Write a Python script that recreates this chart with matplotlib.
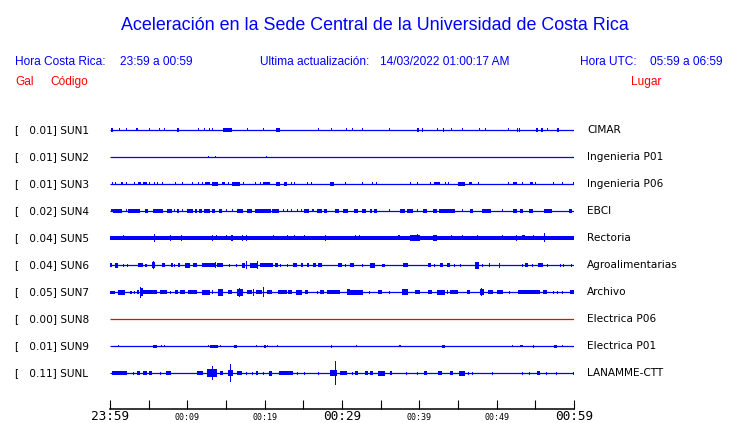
import matplotlib
matplotlib.use("Agg")
import matplotlib.pyplot as plt
from matplotlib.transforms import blended_transform_factory


codes = ["SUN1", "SUN2", "SUN3", "SUN4", "SUN5", "SUN6", "SUN7", "SUN8", "SUN9", "SUNL"]
scales = ["0.01", "0.01", "0.01", "0.02", "0.04", "0.04", "0.05", "0.00", "0.01", "0.11"]
places = ["CIMAR", "Ingenieria P01", "Ingenieria P06", "EBCI", "Rectoria",
          "Agroalimentarias", "Archivo", "Electrica P06", "Electrica P01", "LANAMME-CTT"]

major_minutes = [0, 30, 60]
major_labels = ["23:59", "00:29", "00:59"]
minor_minutes = [5, 10, 15, 20, 25, 35, 40, 45, 50, 55]
minor_labels = ["", "00:09", "", "00:19", "", "", "00:39", "", "00:49", ""]

# rafagas de cada traza: (minuto inicio, minuto fin, amplitud relativa)
sun1 = [(0.13, 0.4, 2), (1.29, 1.29, 1.5), (2.07, 2.07, 1.5), (3.3, 3.6, 1.5), (5.17, 5.17, 1.5),
        (6.34, 6.34, 1.5), (7.11, 7.11, 1.5), (8.7, 8.9, 2), (11.5, 11.5, 1.5), (12.2, 12.2, 1.5),
        (12.9, 12.9, 1.5), (13.3, 13.3, 1.5), (14.6, 15.8, 2), (17.8, 17.8, 1.5), (19.8, 19.8, 1.5),
        (21.5, 22.0, 2), (26.9, 26.9, 1.5), (28.7, 28.7, 1.5), (30.6, 30.6, 1.5), (31.3, 31.3, 1.5),
        (32.6, 32.6, 1.5), (36.2, 36.2, 1.5), (39.7, 39.9, 2), (40.3, 40.5, 2), (42.3, 42.3, 1.5),
        (43.1, 43.2, 2), (44.2, 44.2, 1.5), (45.6, 45.6, 1.5), (47.8, 47.8, 1.5), (48.5, 48.5, 1.5),
        (51.5, 51.5, 1.5), (52.6, 52.8, 2), (53.0, 53.1, 2), (55.1, 55.4, 2), (55.7, 56.0, 2),
        (56.6, 56.6, 1.5), (57.8, 58.1, 2)]
sun2 = [(12.8, 12.8, 1), (13.7, 13.7, 1.2), (20.3, 20.3, 1)]
sun3 = [(0.26, 0.26, 1.5), (0.65, 0.65, 1.5), (1.4, 1.7, 1.5), (2.07, 2.07, 1.5), (3.23, 3.23, 1.5),
        (3.6, 4.0, 1.5), (4.3, 4.8, 1.5), (5.17, 5.17, 1.5), (5.8, 5.8, 1.5), (6.2, 6.2, 1.5),
        (6.85, 6.85, 1.5), (8.5, 8.5, 1.5), (9.4, 9.4, 1.5), (10.7, 10.7, 1.5), (11.4, 11.4, 1.5),
        (11.9, 11.9, 1.5), (12.3, 12.9, 1.5), (13.2, 14.0, 2), (14.5, 14.9, 1.5), (15.3, 15.3, 1.5),
        (15.8, 16.8, 2), (17.2, 17.2, 1.5), (18.8, 18.8, 1.5), (19.4, 19.4, 1.5), (19.8, 20.7, 1.5),
        (21.5, 22.0, 2), (22.5, 22.9, 2), (23.5, 23.5, 1.5), (23.8, 23.8, 1.5), (25.6, 25.6, 1.5),
        (26.1, 26.1, 1.5), (28.4, 29.0, 2), (30.5, 30.6, 1.5), (32.6, 32.6, 1.5), (34.0, 34.0, 1.5),
        (34.5, 34.5, 1.5), (38.8, 38.8, 1.5), (39.8, 39.8, 1.5), (41.4, 41.4, 1.5), (41.9, 42.7, 1.5),
        (43.4, 43.4, 1.5), (43.8, 43.8, 1.5), (45.0, 45.9, 2), (46.4, 46.8, 1.5), (47.6, 47.6, 1.5),
        (51.5, 51.5, 1.5), (52.1, 52.6, 1.5), (53.4, 53.4, 1.5), (54.3, 54.7, 1.5), (55.0, 55.0, 1.5),
        (57.3, 57.3, 1.5), (58.5, 58.5, 1.5), (59.9, 59.9, 1.5)]
sun4 = [(0.1, 0.4, 1.5), (0.4, 1.55, 2), (2.07, 2.07, 1.5), (2.3, 3.9, 2), (4.5, 4.9, 2),
        (5.6, 6.85, 2), (7.4, 8.0, 2), (8.3, 8.3, 1.5), (8.7, 8.9, 2), (9.4, 9.4, 1.5),
        (10.0, 10.7, 2), (11.0, 11.25, 2), (11.5, 11.9, 2), (12.2, 12.9, 2), (13.2, 13.6, 2),
        (14.1, 14.5, 2), (15.1, 15.1, 1.5), (15.9, 15.9, 1.5), (16.4, 17.2, 2), (17.7, 18.4, 2),
        (18.8, 20.8, 2), (20.9, 21.8, 2), (22.4, 22.4, 1.5), (23.0, 23.0, 1.5), (23.5, 23.5, 1.5),
        (24.2, 24.2, 1.5), (24.7, 24.7, 1.5), (25.1, 25.7, 2), (26.25, 26.25, 1.5), (26.8, 27.4, 2),
        (27.7, 28.1, 2), (29.1, 29.6, 2), (30.1, 30.8, 2), (31.6, 32.1, 2), (32.6, 33.1, 2),
        (33.6, 33.9, 2), (34.2, 34.5, 2), (36.1, 36.1, 1.5), (37.5, 38.1, 2), (38.4, 39.2, 2),
        (39.8, 39.8, 1.5), (40.5, 41.0, 2), (41.8, 42.3, 2), (42.5, 44.6, 2), (45.6, 45.6, 1.5),
        (46.55, 46.9, 2), (48.1, 49.3, 2), (50.8, 50.8, 1.5), (52.1, 52.6, 2), (53.0, 53.4, 2),
        (54.2, 54.7, 2), (56.1, 57.2, 2), (59.4, 59.7, 2)]
sun5 = [(0.0, 60.0, 1.7), (56.5, 60.0, 2.3), (1.8, 1.8, 2.5), (5.7, 5.7, 4), (7.8, 7.8, 3),
        (9.3, 9.3, 3), (13.3, 13.3, 3), (13.8, 13.8, 2.5), (15.1, 15.1, 2.5), (15.6, 15.9, 3),
        (17.1, 17.1, 3), (17.7, 17.7, 3), (21.1, 21.1, 2.5), (23.0, 23.0, 2.5), (23.8, 23.8, 2.5),
        (25.1, 25.1, 2.5), (27.9, 27.9, 3), (31.7, 31.7, 2.5), (32.3, 32.3, 2.5), (37.2, 37.5, 2.5),
        (38.8, 40.1, 3), (39.8, 39.8, 3.5), (41.8, 42.3, 3), (44.2, 44.2, 2.5), (45.6, 45.6, 2.5),
        (47.5, 47.5, 2.5), (50.7, 50.7, 2.5), (52.6, 52.6, 3), (53.3, 53.7, 2.5), (54.7, 54.7, 2.5),
        (56.2, 56.2, 4.5)]
sun6 = [(0.0, 0.26, 2), (0.65, 1.0, 2.5), (1.8, 1.8, 1.5), (2.3, 2.3, 1.5), (3.6, 4.3, 2),
        (4.5, 4.8, 1.5), (5.4, 5.8, 3), (5.6, 5.6, 4), (6.7, 7.1, 2), (7.9, 8.15, 2),
        (8.4, 8.4, 1.5), (8.8, 9.05, 2), (9.7, 10.3, 2.5), (10.7, 11.25, 2), (11.9, 13.6, 2),
        (13.7, 13.7, 3), (13.8, 14.6, 2), (15.4, 15.4, 1.5), (16.4, 16.4, 1.5), (17.1, 17.5, 2.5),
        (17.7, 17.7, 4), (18.1, 19.1, 2.5), (19.1, 19.1, 4), (19.4, 21.1, 2), (21.3, 21.7, 2),
        (22.1, 22.1, 1.5), (22.9, 22.9, 1.5), (23.7, 24.2, 2), (24.7, 25.0, 2), (25.5, 25.7, 2),
        (26.25, 26.6, 2), (26.9, 27.4, 2), (29.5, 30.0, 2), (30.5, 30.5, 1.5), (31.0, 31.6, 2),
        (32.7, 32.8, 1.5), (33.6, 34.3, 2.5), (35.2, 35.6, 1.5), (37.9, 38.5, 2), (41.1, 41.5, 2),
        (42.0, 42.0, 1.5), (42.7, 43.1, 2), (43.6, 44.0, 2), (44.6, 44.6, 1.5), (45.3, 45.3, 1.5),
        (47.2, 47.7, 3.5), (48.2, 48.2, 1.5), (49.1, 49.1, 2), (50.4, 50.4, 2.5), (53.3, 53.3, 1.5),
        (53.7, 54.1, 2), (54.6, 54.6, 1.5), (55.3, 56.0, 2), (56.6, 56.6, 1.5), (58.2, 58.2, 1.5),
        (58.7, 58.7, 1.5), (59.7, 59.7, 1.5)]
sun7 = [(0.0, 0.65, 1.5), (1.0, 1.9, 2.5), (2.6, 2.85, 1.5), (3.2, 3.2, 1.5), (3.5, 3.75, 2),
        (3.9, 4.3, 4), (4.0, 4.0, 5.5), (4.3, 6.1, 2), (6.5, 7.4, 2), (7.8, 7.8, 1.5),
        (8.4, 8.8, 2), (9.05, 9.7, 2), (10.1, 11.25, 2), (11.9, 12.9, 2.5), (13.3, 13.3, 2),
        (14.0, 14.6, 3.5), (15.3, 15.8, 2), (16.4, 17.2, 3.5), (16.8, 16.8, 4.5), (17.7, 18.4, 2),
        (18.5, 18.5, 3.5), (18.9, 19.7, 2), (19.9, 19.9, 5), (20.3, 20.95, 2), (21.7, 22.9, 2),
        (23.0, 23.5, 2), (24.05, 24.8, 2.5), (25.2, 25.6, 2), (26.8, 26.8, 1.5), (27.2, 27.7, 2),
        (28.1, 29.7, 2), (30.6, 31.0, 3), (31.0, 32.7, 2.5), (33.6, 33.6, 1.5), (34.7, 35.2, 2),
        (36.2, 36.2, 1.5), (37.8, 38.5, 3), (39.4, 40.1, 2), (41.1, 41.6, 2), (42.3, 43.3, 2.5),
        (43.6, 43.6, 2), (44.0, 45.0, 2), (46.2, 46.55, 2), (47.8, 48.4, 3), (48.1, 48.1, 4),
        (48.9, 49.5, 2), (50.0, 50.8, 2), (51.7, 51.7, 1.5), (52.8, 55.6, 1.8), (56.0, 56.5, 2),
        (57.3, 57.3, 1.5), (57.9, 57.9, 1.5), (58.5, 58.5, 1.5), (59.5, 60.0, 2)]
sun8 = []
sun9 = [(1.16, 1.16, 1), (5.56, 6.1, 1.5), (6.6, 6.6, 1), (7.1, 7.1, 1), (12.7, 12.7, 1),
        (12.9, 14.0, 1.5), (14.35, 14.35, 1), (16.0, 16.4, 1.5), (19.0, 19.0, 1), (19.9, 20.2, 1.5),
        (20.4, 20.4, 1), (21.6, 21.6, 1), (28.6, 28.6, 1.5), (31.9, 31.9, 1), (37.5, 37.5, 1),
        (42.9, 43.3, 1.5), (52.1, 52.1, 1), (53.0, 53.4, 1), (54.7, 54.7, 1.5), (57.4, 57.8, 1.5),
        (58.5, 58.5, 1)]
sunl = [(0.26, 2.2, 2), (3.0, 3.0, 1.5), (3.5, 3.9, 2), (4.3, 4.8, 2), (5.0, 5.4, 2),
        (6.5, 6.5, 1.5), (7.2, 7.9, 2), (11.25, 12.0, 2), (12.5, 13.8, 4), (13.2, 13.2, 7),
        (14.2, 14.6, 2), (15.25, 15.9, 3), (15.6, 15.6, 9), (16.4, 17.1, 2), (17.7, 17.7, 1.5),
        (18.4, 18.4, 1.5), (18.9, 19.1, 2), (19.8, 19.8, 1.5), (20.6, 20.95, 2.5), (21.85, 23.7, 2),
        (24.3, 24.3, 1.5), (25.2, 25.2, 1.5), (26.9, 26.9, 1.5), (28.4, 29.35, 3), (29.1, 29.1, 12),
        (29.7, 30.6, 2), (31.3, 31.3, 1.5), (31.7, 32.1, 2), (33.0, 33.4, 2), (33.6, 34.0, 2),
        (34.7, 35.6, 2.5), (36.2, 36.5, 2), (38.4, 38.4, 1.5), (39.7, 39.7, 1.5), (40.6, 41.0, 2),
        (42.4, 42.9, 2), (44.0, 44.35, 2), (45.1, 45.9, 2.5), (46.4, 46.4, 1.5), (46.9, 46.9, 1.5),
        (49.4, 49.4, 1.5), (53.3, 53.3, 1.5), (54.3, 54.3, 1.5), (55.2, 55.6, 2), (56.5, 56.5, 1.5),
        (57.8, 57.8, 1.5), (60.0, 60.0, 1.5)]

bursts = [sun1, sun2, sun3, sun4, sun5, sun6, sun7, sun8, sun9, sunl]

W, H = 740, 423
blue = "#0000ff"
red = "#ff0000"
colors = [blue] * 7 + [red] + [blue] * 2
amp_scale = 1 / 27.0      # amplitud relativa -> separacion entre trazas
spike_w = 0.13            # ancho minimo de un pico (minutos)

fig = plt.figure(figsize=(W / 100, H / 100), dpi=100)
fig.patch.set_facecolor("white")


def fx(px):
    return px / W


def fy(py):
    return 1 - py / H


# encabezado
head = dict(family="Liberation Sans", fontsize=8.6)
fig.text(fx(375), fy(29.5), "Aceleración en la Sede Central de la Universidad de Costa Rica",
         family="Liberation Sans", fontsize=12.9, color=blue, ha="center", va="baseline")
fig.text(fx(15), fy(65), "Hora Costa Rica:", color=blue, va="baseline", **head)
fig.text(fx(120), fy(65), "23:59 a 00:59", color=blue, va="baseline", **head)
fig.text(fx(260), fy(65), "Ultima actualización:", color=blue, va="baseline", **head)
fig.text(fx(380), fy(65), "14/03/2022 01:00:17 AM", color=blue, va="baseline", **head)
fig.text(fx(580.5), fy(65), "Hora UTC:", color=blue, va="baseline", **head)
fig.text(fx(650.5), fy(65), "05:59 a 06:59", color=blue, va="baseline", **head)
fig.text(fx(15), fy(85), "Gal", color=red, va="baseline", **head)
fig.text(fx(50), fy(85), "Código", color=red, va="baseline", **head)
fig.text(fx(630.5), fy(85), "Lugar", color=red, va="baseline", **head)

# trazas
left, right = 110, 574
ax = fig.add_axes([fx(left), fy(400), (right - left) / W, 297 / H])
ax.set_xlim(0, 60)
ax.set_ylim(10, -1)
ax.axis("off")

tr = blended_transform_factory(fig.transFigure, ax.transData)
for i in range(len(codes)):
    c = colors[i]
    ax.plot([0, 60], [i, i], color=c, lw=0.9, solid_capstyle="butt")
    for t0, t1, a in bursts[i]:
        h = a * amp_scale
        if t1 - t0 < spike_w:
            ax.bar(t0 - spike_w / 2, 2 * h, width=spike_w, bottom=i - h,
                   align="edge", color=c, linewidth=0)
        else:
            ax.bar(t0, 2 * h, width=t1 - t0, bottom=i - h,
                   align="edge", color=c, linewidth=0)
    ax.text(fx(15), i, "[   " + scales[i] + "] " + codes[i], transform=tr,
            fontsize=7.6, color="black", va="center")
    ax.text(fx(587), i, places[i], transform=tr,
            fontsize=7.6, color="black", va="center")

# eje de tiempo
ax2 = fig.add_axes([fx(left), fy(409), (right - left) / W, 0.0001])
ax2.set_xlim(0, 60)
ax2.set_yticks([])
for s in ["top", "left", "right"]:
    ax2.spines[s].set_visible(False)
ax2.spines["bottom"].set_linewidth(1.1)
ax2.set_xticks(major_minutes)
ax2.set_xticklabels(major_labels, family="DejaVu Sans Mono", fontsize=9.2)
ax2.set_xticks(minor_minutes, minor=True)
ax2.set_xticklabels(minor_labels, minor=True, family="DejaVu Sans Mono", fontsize=6)
ax2.tick_params(axis="x", which="major", direction="in", length=6.5, width=0.8, pad=1.0)
ax2.tick_params(axis="x", which="minor", direction="in", length=6.5, width=0.8, pad=3.0)

fig.savefig("out.png", dpi=100, facecolor="white")
